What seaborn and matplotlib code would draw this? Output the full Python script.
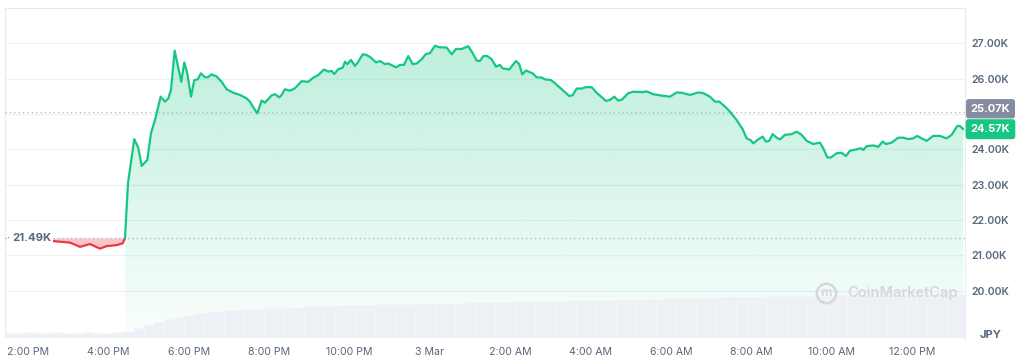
import numpy as np
import matplotlib
matplotlib.use("Agg")
import matplotlib.pyplot as plt
from matplotlib.patches import Polygon
import matplotlib.transforms as mtransforms
import seaborn as sns

# ---------------- data ----------------
# hours after 2:00 PM (2 Mar)
price_hours = [0.547, 1.045, 1.294, 1.542, 1.791, 1.958, 2.206, 2.356, 2.413,
    2.488, 2.644, 2.744, 2.829, 2.968, 3.060, 3.159, 3.301, 3.408, 3.490, 3.557, 3.649,
    3.813, 3.888, 3.963, 4.055, 4.137, 4.221, 4.303, 4.403, 4.470, 4.570, 4.694, 4.818,
    4.943, 5.107, 5.274, 5.440, 5.522, 5.604, 5.704, 5.813, 5.896, 6.062, 6.144, 6.251,
    6.311, 6.393, 6.517, 6.642, 6.808, 6.973, 7.097, 7.221, 7.363, 7.470, 7.555, 7.619,
    7.719, 7.828, 7.886, 7.943, 8.035, 8.134, 8.216, 8.326, 8.425, 8.525, 8.657, 8.756,
    8.881, 8.963, 9.154, 9.254, 9.353, 9.460, 9.570, 9.669, 9.794, 9.900, 10.000, 10.124,
    10.231, 10.415, 10.540, 10.647, 10.788, 10.953, 11.062, 11.162, 11.244, 11.326, 11.425,
    11.535, 11.642, 11.741, 11.808, 11.973, 12.139, 12.221, 12.296, 12.388, 12.555, 12.654,
    12.779, 12.861, 13.010, 13.109, 13.276, 13.465, 13.550, 13.649, 13.774, 13.881, 14.022,
    14.147, 14.378, 14.478, 14.585, 14.684, 14.769, 14.933, 15.057, 15.306, 15.391, 15.555,
    15.764, 15.970, 16.137, 16.261, 16.468, 16.674, 16.799, 16.965, 17.090, 17.197, 17.338,
    17.445, 17.629, 17.778, 17.878, 17.978, 18.042, 18.167, 18.276, 18.358, 18.440, 18.525,
    18.624, 18.706, 18.831, 18.998, 19.122, 19.246, 19.371, 19.535, 19.701, 19.784, 19.883,
    19.975, 20.117, 20.241, 20.348, 20.448, 20.614, 20.721, 20.779, 20.863, 21.027, 21.152,
    21.261, 21.343, 21.485, 21.649, 21.774, 21.898, 22.022, 22.122, 22.231, 22.356, 22.520,
    22.687, 22.853, 22.978, 23.117, 23.184, 23.266]

price_jpy = [21410, 21360, 21240, 21320, 21190, 21260, 21290, 21340, 21490,
    23050, 24290, 24040, 23530, 23700, 24460, 24830, 25490, 25350, 25440, 25680, 26790,
    25910, 26460, 26150, 25490, 25960, 25980, 26150, 26040, 26040, 26120, 26060, 25910,
    25700, 25600, 25540, 25440, 25350, 25190, 25020, 25380, 25320, 25530, 25560, 25470,
    25540, 25700, 25660, 25730, 25930, 25910, 26030, 26100, 26260, 26200, 26220, 26130,
    26270, 26310, 26480, 26410, 26530, 26360, 26480, 26690, 26670, 26600, 26460, 26500,
    26410, 26430, 26320, 26390, 26390, 26640, 26410, 26430, 26550, 26700, 26720, 26930,
    26890, 26880, 26690, 26840, 26840, 26920, 26720, 26510, 26500, 26640, 26640,
    26550, 26340, 26390, 26290, 26260, 26500, 26410, 26120, 26230, 26150, 26040,
    26030, 25980, 25960, 25870, 25700, 25510, 25530, 25720, 25720, 25760, 25760,
    25600, 25370, 25400, 25490, 25380, 25400, 25590, 25630, 25620, 25640, 25560,
    25520, 25490, 25610, 25600, 25540, 25610, 25590, 25490, 25350, 25350, 25210,
    25090, 24830, 24570, 24310, 24260, 24170, 24280, 24360, 24220, 24240, 24430,
    24330, 24280, 24410, 24430, 24500, 24410, 24240, 24150, 24190, 24030, 23770,
    23770, 23890, 23900, 23810, 23960, 24000, 24030, 23980, 24090, 24110, 24070,
    24220, 24150, 24190, 24330, 24330, 24290, 24310, 24380, 24310, 24240, 24380,
    24380, 24310, 24410, 24660, 24660, 24570]

open_price = 21490
ref_price = 25070
last_price = 24570

# volume bars, one every 15 minutes starting 1:30 PM (relative units)
volume = [5.5, 5.5, 6, 5.5, 5.5, 6, 5.5, 5.5, 6, 5.5, 5.5, 6,
    7, 10, 13, 16, 19, 21, 23.5, 25, 26.5, 27.5, 28, 28.5, 29, 29.5, 30, 30.5, 31, 31.3,
    31.6, 32, 32.3, 32.6, 33, 33.3, 33.5, 33.8, 34,
    34.2, 34.4, 34.6, 34.8, 35, 35.2, 35.4, 35.6, 35.8, 36, 36.2, 36.4, 36.6, 36.8, 37,
    37.2, 37.4, 37.6, 37.8, 38,
    38.2, 38.4, 38.6, 38.8, 39, 39.2, 39.4, 39.6, 39.8, 40, 40.2, 40.4, 40.6, 40.8, 41,
    41.2, 41.4, 41.6, 41.8, 42,
    42.1, 42.2, 42.4, 42.5, 42.6, 42.8, 42.9, 43, 43.1, 43.2, 43.4, 43.5, 43.6, 43.7,
    43.8, 43.9, 44]
volume_hours = -0.5 + 0.25 * np.arange(len(volume))

tick_hours = [0, 2, 4, 6, 8, 10, 12, 14, 16, 18, 20, 22]
tick_labels = ["2:00 PM", "4:00 PM", "6:00 PM", "8:00 PM", "10:00 PM", "3 Mar",
               "2:00 AM", "4:00 AM", "6:00 AM", "8:00 AM", "10:00 AM", "12:00 PM"]
y_ticks = [20000, 21000, 22000, 23000, 24000, 25000, 26000, 27000]
y_tick_labels = ["20.00K", "21.00K", "22.00K", "23.00K", "24.00K", "", "26.00K", "27.00K"]

# ---------------- style ----------------
sns.set_theme(style="white")
plt.rcParams['font.family'] = ['Inter', 'DejaVu Sans']

GREEN = "#16c784"
RED = "#ea3943"
TXT = "#58667e"
GRID = "#eff2f5"

fig = plt.figure(figsize=(10.24, 3.61), dpi=100)
ax = fig.add_axes([5 / 1024, 23 / 361, 960 / 1024, 330 / 361])
ax2 = ax.twinx()
ax.set_zorder(1)
ax2.set_zorder(2)
ax2.patch.set_visible(False)

XMIN, XMAX = -0.572, 23.31
YMIN, YMAX = 18660, 28000

# volume (drawn over the faint area fill)
ax2.bar(volume_hours, volume, width=0.25, color="#edf0f4", edgecolor="#f6f7f9",
        linewidth=0.4, align="center")
ax2.set_ylim(0, 330)
ax2.set_yticks([])
for s in ax2.spines.values():
    s.set_visible(False)

hours = np.array(price_hours)
prices = np.array(price_jpy)
k = int(np.argmax(prices >= open_price))
h_red, p_red = hours[:k + 1], prices[:k + 1]
h_grn, p_grn = hours[k:], prices[k:]

# green gradient fill
poly = np.vstack([[h_grn[0], YMIN], np.column_stack([h_grn, p_grn]), [h_grn[-1], YMIN]])
clip = Polygon(poly, closed=True, facecolor="none", edgecolor="none")
ax.add_patch(clip)
n = 256
rgba = np.zeros((n, 1, 4))
rgba[..., :3] = matplotlib.colors.to_rgb(GREEN)
rgba[:, 0, 3] = np.linspace(0.02, 0.28, n)
im = ax.imshow(rgba, extent=[h_grn[0], h_grn[-1], YMIN, p_grn.max()], origin="lower",
               aspect="auto", zorder=1, interpolation="bilinear")
im.set_clip_path(clip)

# red fill
ax.fill_between(h_red, p_red, open_price, color=RED, alpha=0.28, linewidth=0, zorder=1)

# lines
sns.lineplot(x=h_red, y=p_red, ax=ax, color=RED, linewidth=1.6, zorder=4)
sns.lineplot(x=h_grn, y=p_grn, ax=ax, color=GREEN, linewidth=1.6, zorder=4)

# reference dotted lines
ax.axhline(open_price, color="#a6b0c3", linestyle=(0, (1, 2.5)), linewidth=0.9, zorder=3)
ax.axhline(ref_price, color="#a6b0c3", linestyle=(0, (1, 2.5)), linewidth=0.9, zorder=3)

ax.set_xlim(XMIN, XMAX)
ax.set_ylim(YMIN, YMAX)

# grid
for v in y_ticks:
    ax.axhline(v, color=GRID, linewidth=0.9, zorder=0.5)

ax.yaxis.tick_right()
ax.set_yticks(y_ticks)
ax.set_yticklabels(y_tick_labels)
ax.set_xticks(tick_hours)
ax.set_xticklabels(tick_labels)
ax.tick_params(axis="y", length=0, pad=4.5, labelsize=7.6, labelcolor=TXT)
ax.tick_params(axis="x", length=0, pad=6.5, labelsize=7.6, labelcolor=TXT)
for lab in ax.get_yticklabels():
    lab.set_fontweight("semibold")
ax.set_xlabel("")
ax.set_ylabel("")
ax.grid(False)

for name, s in ax.spines.items():
    s.set_color("#e8ebef")
    s.set_linewidth(0.8)
ax.spines["bottom"].set_visible(False)

# labels
trans = mtransforms.blended_transform_factory(ax.transAxes, ax.transData)
ax.text(7 / 960, open_price, "21.49K", transform=trans, ha="left", va="center",
        fontsize=8.2, fontweight="bold", color=TXT, zorder=6,
        bbox=dict(boxstyle="square,pad=0.15", fc="white", ec="none"))
ax.text(1 / 960, open_price, "·", transform=trans, ha="left", va="center",
        fontsize=8, color=TXT, zorder=6)

trans2 = mtransforms.blended_transform_factory(ax2.transAxes, ax.transData)
xbox = 1 + 25.5 / 960
ax2.annotate("25.07K", xy=(xbox, ref_price), xycoords=trans2, xytext=(0, 2),
             textcoords="offset points", ha="center", va="center", fontsize=8,
             fontweight="bold", color="white", annotation_clip=False, zorder=7,
             bbox=dict(boxstyle="round,pad=0.42,rounding_size=0.25", fc="#858ca2", ec="none"))
ax2.annotate("24.57K", xy=(xbox, last_price), xycoords=trans2, xytext=(0, 0),
             textcoords="offset points", ha="center", va="center", fontsize=8,
             fontweight="bold", color="white", annotation_clip=False, zorder=8,
             bbox=dict(boxstyle="round,pad=0.45,rounding_size=0.25", fc=GREEN, ec="none"))

fig.text(991 / 1024, 1 - 335 / 361, "JPY", ha="center", va="center", fontsize=8,
         fontweight="bold", color=TXT)

# watermark
ax2.plot([821 / 960], [1 - (293 - 8) / 330], marker="o", markersize=14,
         markerfacecolor="none", markeredgecolor="#d3d7de", markeredgewidth=1.8,
         transform=ax2.transAxes, zorder=6)
ax2.text(821 / 960, 1 - (293.5 - 8) / 330, "m", transform=ax2.transAxes, ha="center",
         va="center", fontsize=9, fontweight="bold", color="#d3d7de", zorder=6)
ax2.text(842 / 960, 1 - (293 - 8) / 330, "CoinMarketCap", transform=ax2.transAxes,
         ha="left", va="center", fontsize=10.5, fontweight="semibold", color="#d3d7de",
         zorder=6)

fig.savefig("out.png", dpi=100, facecolor="white")
